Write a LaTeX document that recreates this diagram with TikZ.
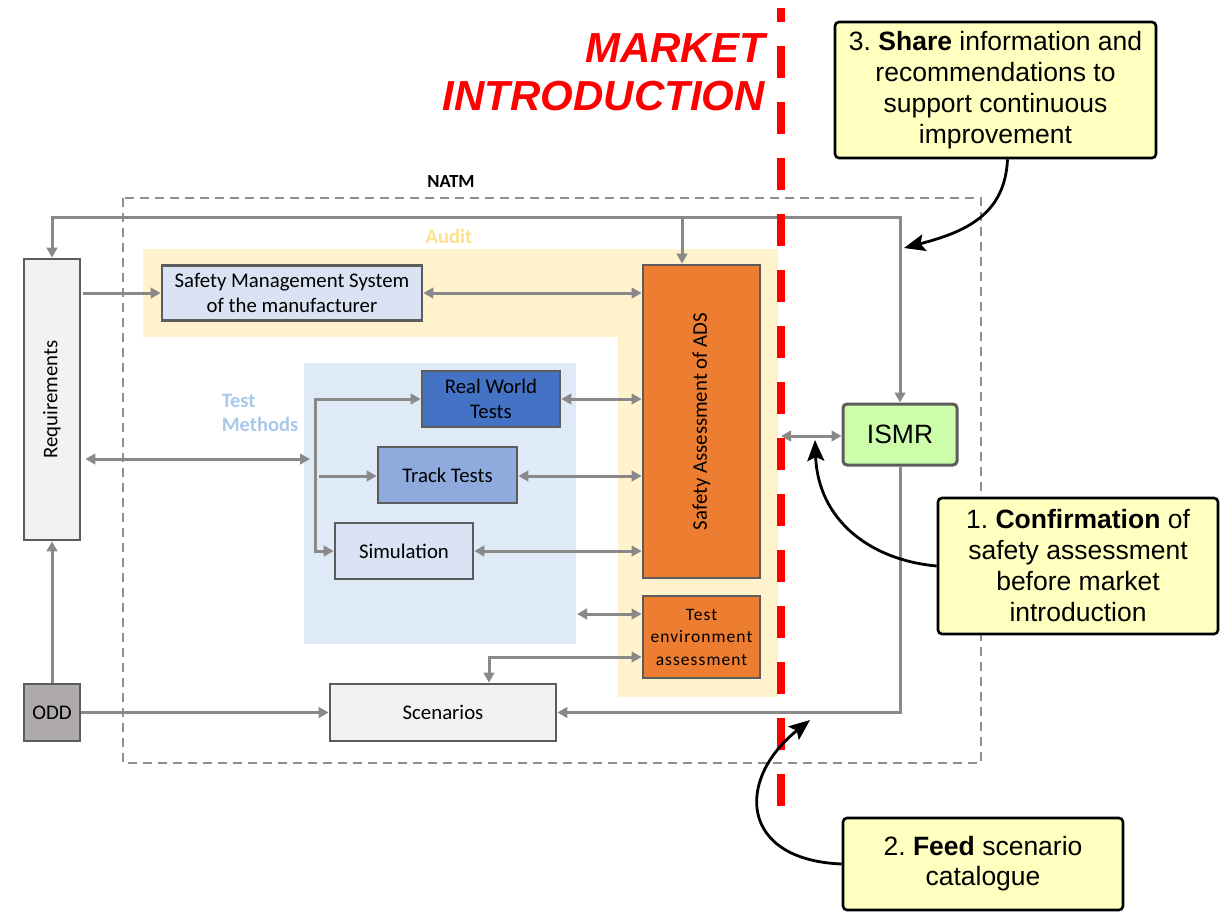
\documentclass[tikz,border=0pt]{standalone}
\usepackage{fontspec}
\setmainfont{Carlito}
\newfontfamily\hv{Liberation Sans}
\usetikzlibrary{arrows.meta,calc}
\frenchspacing

\definecolor{auditfill}{HTML}{FFF2CC}
\definecolor{audittext}{HTML}{FFE08A}
\definecolor{testfill}{HTML}{DEEBF7}
\definecolor{testtext}{HTML}{A9C9EA}
\definecolor{paleblue}{HTML}{DAE3F3}
\definecolor{midblue}{HTML}{8FAADC}
\definecolor{darkblue}{HTML}{4472C4}
\definecolor{orangebox}{HTML}{ED7D31}
\definecolor{lightgrey}{HTML}{F2F2F2}
\definecolor{oddgrey}{HTML}{AEAAAA}
\definecolor{ismrgreen}{HTML}{CCFDAA}
\definecolor{noteyellow}{HTML}{FFFFC0}
\definecolor{boxline}{HTML}{5C5C5C}
\definecolor{connline}{HTML}{898989}
\definecolor{natmline}{HTML}{8F8F8F}
\definecolor{marketred}{HTML}{FF0000}

\begin{document}
\begin{tikzpicture}[x=1pt,y=-1pt,
  box/.style={draw=boxline,line width=2.7pt,inner sep=0pt,align=center,
    font=\fontsize{20.8}{24.5}\selectfont},
  gline/.style={draw=connline,line width=3pt},
  garrow/.style={gline,-{Triangle[length=10pt,width=10.5pt]}},
  gboth/.style={gline,{Triangle[length=10pt,width=10.5pt]}-{Triangle[length=10pt,width=10.5pt]}},
  callout/.style={draw=black,line width=2.6pt,rounded corners=4pt,fill=noteyellow,
    inner sep=0pt,align=center,font=\hv\fontsize{26.5}{31}\selectfont},
  carrow/.style={draw=black,line width=2.8pt,-{Stealth[length=21pt,width=17pt,inset=4pt]}}
]
\useasboundingbox (0,0) rectangle (1223,911);

% shaded areas: audit (L-shape) and test methods
\fill[auditfill] (143,249) -- (778,249) -- (778,697) -- (618,697) -- (618,337)
  -- (143,337) -- cycle;
\fill[testfill] (304,363) rectangle (576,644);

% NATM frame
\draw[natmline,line width=2.2pt,dash pattern=on 9pt off 6pt] (123,198) rectangle (981,763);

% headings
\node[font=\bfseries\fontsize{18.5}{20}\selectfont] (natm) at (451,181) {NATM};
\node[font=\bfseries\fontsize{20.5}{22}\selectfont,text=audittext] (audit) at (449,236) {Audit};
\node[font=\bfseries\fontsize{20.5}{23.5}\selectfont,text=testtext,align=left,inner sep=0pt]
  (tmlabel) at (260,413) {Test\\Methods};
\node[font=\hv\bfseries\itshape\fontsize{42}{48}\selectfont,text=marketred,
  anchor=base east,inner sep=0pt] (mk1) at (765,62) {MARKET};
\node[font=\hv\bfseries\itshape\fontsize{42}{48}\selectfont,text=marketred,
  anchor=base east,inner sep=0pt] (mk2) at (765,110) {INTRODUCTION};

% blocks
\node[box,fill=lightgrey,minimum width=56pt,minimum height=281pt] (req) at (52,399.5)
  {\rotatebox{90}{Requirements}};
\node[box,fill=paleblue,minimum width=260pt,minimum height=55pt] (sms) at (292,293)
  {Safety Management System\\of the manufacturer};
\node[box,fill=orangebox,minimum width=117pt,minimum height=313pt] (sa) at (701.5,421.5)
  {\rotatebox{90}{Safety Assessment of ADS}};
\node[box,fill=orangebox,minimum width=117pt,minimum height=82pt,
  font=\addfontfeatures{LetterSpace=6}\fontsize{17.5}{22.5}\selectfont] (te) at (701.5,637)
  {Test\\environment\\assessment};
\node[box,fill=darkblue,minimum width=138pt,minimum height=56pt] (rwt) at (491,399)
  {Real World\\Tests};
\node[box,fill=midblue,minimum width=139pt,minimum height=56pt] (track) at (447.5,475)
  {Track Tests};
\node[box,fill=paleblue,minimum width=138pt,minimum height=56pt] (sim) at (404,551)
  {Simulation};
\node[box,fill=oddgrey,minimum width=56pt,minimum height=57pt] (odd) at (52,712.5) {ODD};
\node[box,fill=lightgrey,minimum width=226pt,minimum height=57pt] (scen) at (443,712.5)
  {Scenarios};
\node[box,fill=ismrgreen,line width=3pt,rounded corners=4pt,minimum width=114pt,
  minimum height=61pt,font=\hv\fontsize{26.5}{30}\selectfont] (ismr) at (900,434.5) {ISMR};

% junctions and free ends
\coordinate (top) at (682,217);
\coordinate (tmin) at (310,459);
\coordinate (tt) at (315,399);
\coordinate (tb) at (315,551);
\coordinate (tmid) at (319,476);
\coordinate (envl) at (577,614);
\coordinate (ml) at (781,436);

% connectors
\draw[garrow] (top) -| (req.north);
\draw[garrow] (top) -- (top |- sa.north);
\draw[garrow] (top) -| (ismr.north);
\draw[garrow] ($(req.east |- sms.west)+(2,0)$) -- (sms.west);
\draw[gboth] (sms.east) -- (sa.west |- sms.east);
\draw[gboth,shorten <=4pt] (req.east |- tmin) -- (tmin);
\draw[garrow] (tb) |- (rwt.west);
\draw[garrow] (tt) |- (sim.west);
\draw[garrow] (tmid) -- (track.west |- tmid);
\draw[gboth] (rwt.east) -- (sa.west |- rwt.east);
\draw[gboth] (track.east |- tmid) -- (sa.west |- tmid);
\draw[gboth] (sim.east) -- (sa.west |- sim.east);
\draw[gboth] (envl) -- (te.west |- envl);
\draw[gboth] ($(scen.north)+(46,0)$) |- ($(te.west)+(0,20)$);
\draw[garrow] (odd.north) -- (req.south);
\draw[garrow] (odd.east) -- (scen.west);
\draw[garrow] (ismr.south) |- (scen.east);
\draw[gboth] (ml) -- (ismr.west |- ml);

% market introduction boundary
\draw[marketred,line width=8pt,dash pattern=on 32pt off 24pt,dash phase=18pt]
  (781,8) -- (781,806);

% callouts
\node[callout,minimum width=321pt,minimum height=136pt] (c3) at (995.5,90)
  {3. \textbf{Share} information and\\recommendations to\\support continuous\\improvement};
\node[callout,minimum width=280pt,minimum height=136pt] (c1) at (1078,566)
  {1. \textbf{Confirmation} of\\safety assessment\\before market\\introduction};
\node[callout,minimum width=280pt,minimum height=92pt,
  font=\hv\fontsize{26.5}{30}\selectfont] (c2) at (983,864)
  {2. \textbf{Feed} scenario\\catalogue};

\coordinate (c3tip) at (904,248);
\coordinate (c1tip) at (815,440);
\coordinate (c2tip) at (810,720);

\draw[carrow] ($(c3.south)+(12,0)$) .. controls (1005,215) and (965,232) .. (c3tip);
\draw[carrow] (c1.west) .. controls (870,560) and (818,520) .. (c1tip);
\draw[carrow] (c2.west) .. controls (740,860) and (735,780) .. (c2tip);
\end{tikzpicture}
\end{document}
